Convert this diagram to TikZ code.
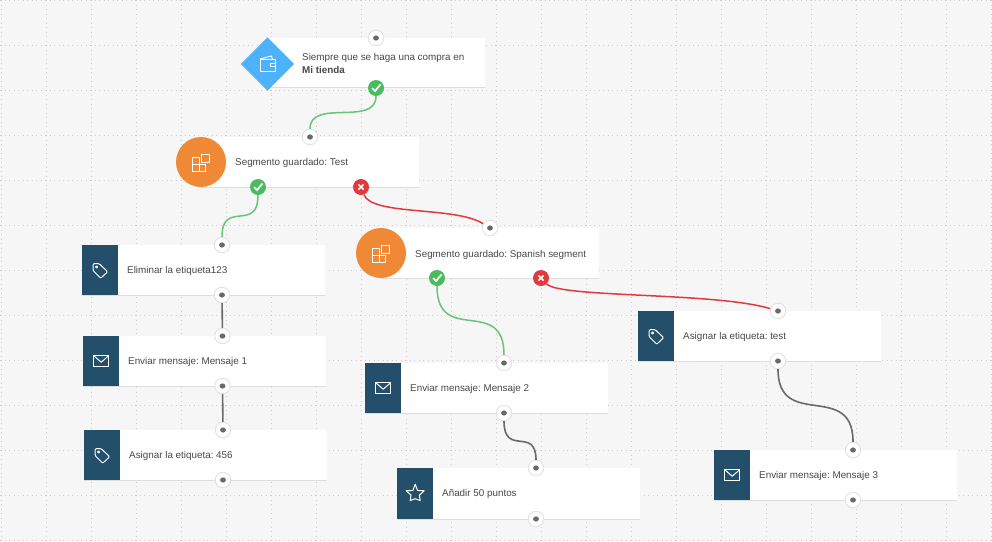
\documentclass[tikz,border=0pt]{standalone}
\usepackage{fontspec}
\setmainfont{Liberation Sans}
\definecolor{bgc}{HTML}{F6F6F6}
\definecolor{gridc}{HTML}{CFCFCF}
\definecolor{tealc}{HTML}{234F6B}
\definecolor{orangec}{HTML}{EF8935}
\definecolor{bluec}{HTML}{4DB2FA}
\definecolor{greenc}{HTML}{4CBB5F}
\definecolor{redc}{HTML}{E0393E}
\definecolor{shadowc}{HTML}{DEDEDE}
\definecolor{textc}{HTML}{484848}
\definecolor{wirec}{HTML}{6A6A6A}
\definecolor{ringc}{HTML}{E2E2E2}
\tikzset{
  cardbox/.style={anchor=north west,fill=white,inner sep=0pt,minimum width=#1,minimum height=50pt,
    preaction={fill=shadowc,transform canvas={yshift=-1pt}}},
  iconbox/.style={anchor=north west,fill=tealc,inner sep=0pt,minimum width=36pt,minimum height=50pt},
  roundicon/.style={circle,fill=orangec,inner sep=0pt,minimum size=50pt},
  diamondicon/.style={diamond,fill=bluec,inner sep=0pt,minimum size=53.4pt},
  labeltext/.style={anchor=west,inner sep=0pt,yshift=-1pt,text=textc,font=\fontsize{9.85}{11}\selectfont\frenchspacing},
  gridline/.style={gridc,line width=.7pt,dash pattern=on .7pt off 3.8pt},
  portdot/.style={circle,fill=white,draw=ringc,line width=.9pt,inner sep=0pt,minimum size=15.5pt,
    path picture={\fill[wirec] (path picture bounding box.center) ellipse (2.9pt and 2.6pt);}},
  okdot/.style={circle,fill=greenc,inner sep=0pt,minimum size=16pt,
    path picture={\draw[white,line width=1.7pt] ([shift={(-4pt,0pt)}]path picture bounding box.center) -- ++(3pt,-3pt) -- ++(5.5pt,6.5pt);}},
  nodot/.style={circle,fill=redc,inner sep=0pt,minimum size=16pt,
    path picture={\draw[white,line width=1.5pt] ([shift={(-2.6pt,-2.6pt)}]path picture bounding box.center) -- ++(5.2pt,5.2pt) ([shift={(-2.6pt,2.6pt)}]path picture bounding box.center) -- ++(5.2pt,-5.2pt);}},
  okwire/.style={draw=greenc!85!white,line width=1.5pt},
  nowire/.style={draw=redc,line width=1.5pt},
  plainwire/.style={draw=wirec,line width=1.6pt},
  glyph/.style={draw=white,line width=1pt,line join=round,fill=none},
  tagicon/.pic={\draw[glyph,rounded corners=1pt] (-7,-6.5) -- (-1,-6.5) -- (7.5,1.5) -- (0.5,8) -- (-7,0.5) -- cycle;
     \draw[glyph,line width=.8pt] (-3.6,-3.2) circle (1.1);},
  mailicon/.pic={\draw[glyph] (-7.5,-5.5) rectangle (7.5,5.5); \draw[glyph] (-7.5,-5.5) -- (0,1) -- (7.5,-5.5);},
  staricon/.pic={\draw[glyph] (-90:9.5) -- (-54:4) -- (-18:9.5) -- (18:4.4) -- (54:8.5) -- (90:5) -- (126:8.5) -- (162:4.4) -- (198:9.5) -- (234:4) -- cycle;},
  segicon/.pic={\draw[glyph] (-8.7,-4.3) rectangle (-2,2.4) (-8.7,2.4) rectangle (-2,9) (-2,2.4) rectangle (4.7,9) (0.7,-7.7) rectangle (8.3,0.3);},
  walleticon/.pic={\draw[glyph] (-7.5,-5) rectangle (7.5,7); \draw[glyph] (-7.5,-5) -- (4,-8) -- (4.8,-5); \draw[glyph] (7.5,-1) -- (3,-1) -- (3,2) -- (7.5,2);},
}
\usetikzlibrary{shapes.geometric}
\begin{document}
\begin{tikzpicture}[x=1pt,y=-1pt]
\useasboundingbox (0,0) rectangle (992,541);
\fill[bgc] (0,0) rectangle (992,541);
% grid
\foreach \gx in {1.7,46.7,...,992}
  \draw[gridline] (\gx,0) -- (\gx,541);
\foreach \gy in {0,45,...,540}
  \draw[gridline] (0,\gy) -- (992,\gy);

% trigger
\node[cardbox=217pt,minimum height=49pt] (trigcard) at (268,38) {};
\node[diamondicon] (trigicon) at (267.5,64) {};
\pic at (trigicon.center) {walleticon};
\node[labeltext] (trigt1) at (302,57.2) {Siempre que se haga una compra en};
\node[labeltext] (trigt2) at (302,69.4) {\textbf{Mi tienda}};
% segment 1
\node[cardbox=218pt] (seg1card) at (201,137) {};
\node[roundicon] (seg1icon) at (201,162) {};
\pic at (seg1icon.center) {segicon};
\node[labeltext] (seg1t) at (235,162) {Segmento guardado: Test};
% segment 2
\node[cardbox=218pt] (seg2card) at (381,228) {};
\node[roundicon] (seg2icon) at (381,253) {};
\pic at (seg2icon.center) {segicon};
\node[labeltext] (seg2t) at (415,253.5) {Segmento guardado: Spanish segment};
% actions
\node[cardbox=243pt] (elimcard) at (82,245) {};
\node[iconbox] (elimicon) at (82,245) {};
\pic at (elimicon.center) {tagicon};
\node[labeltext] (elimt) at (127,270) {Eliminar la etiqueta123};

\node[cardbox=243pt] (m1card) at (83,336) {};
\node[iconbox] (m1icon) at (83,336) {};
\pic at (m1icon.center) {mailicon};
\node[labeltext] (m1t) at (128,361) {Enviar mensaje: Mensaje 1};

\node[cardbox=243pt] (a456card) at (84,430) {};
\node[iconbox] (a456icon) at (84,430) {};
\pic at (a456icon.center) {tagicon};
\node[labeltext] (a456t) at (129,455) {Asignar la etiqueta: 456};

\node[cardbox=243pt] (m2card) at (365,363) {};
\node[iconbox] (m2icon) at (365,363) {};
\pic at (m2icon.center) {mailicon};
\node[labeltext] (m2t) at (410,388) {Enviar mensaje: Mensaje 2};

\node[cardbox=243pt,minimum height=51pt] (ptscard) at (397,468) {};
\node[iconbox,minimum height=51pt] (ptsicon) at (397,468) {};
\pic at (ptsicon.center) {staricon};
\node[labeltext] (ptst) at (442,493) {Añadir 50 puntos};

\node[cardbox=243pt] (atcard) at (638,311) {};
\node[iconbox] (aticon) at (638,311) {};
\pic at (aticon.center) {tagicon};
\node[labeltext] (att) at (683,336) {Asignar la etiqueta: test};

\node[cardbox=243pt] (m3card) at (714,450) {};
\node[iconbox] (m3icon) at (714,450) {};
\pic at (m3icon.center) {mailicon};
\node[labeltext] (m3t) at (759,475) {Enviar mensaje: Mensaje 3};

% ports
\node[portdot] (ptrigin) at (376,38) {};
\node[okdot] (ptrigok) at (376,88) {};
\node[portdot] (pseg1in) at (310,137) {};
\node[okdot] (pseg1ok) at (258,187) {};
\node[nodot] (pseg1no) at (361,187) {};
\node[portdot] (pseg2in) at (490,228) {};
\node[okdot] (pseg2ok) at (437,278) {};
\node[nodot] (pseg2no) at (541,278) {};
\node[portdot] (pelimin) at (222,245) {};
\node[portdot] (pelimout) at (222,295) {};
\node[portdot] (pm1in) at (222.5,336) {};
\node[portdot] (pm1out) at (222.5,386) {};
\node[portdot] (pa456in) at (223,430) {};
\node[portdot] (pa456out) at (223,480) {};
\node[portdot] (pm2in) at (504,363) {};
\node[portdot] (pm2out) at (504,413) {};
\node[portdot] (pptsin) at (536,468) {};
\node[portdot] (pptsout) at (536,519) {};
\node[portdot] (patin) at (778,311) {};
\node[portdot] (patout) at (778,361) {};
\node[portdot] (pm3in) at (853,450) {};
\node[portdot] (pm3out) at (853,500) {};

% connectors
\draw[okwire] (ptrigok) .. controls +(0,39) and +(0,-39) .. (pseg1in);
\draw[okwire] (pseg1ok) .. controls +(0,46) and +(0,-46) .. (pelimin);
\draw[nowire] (pseg1no) .. controls +(11,29) and +(-35,-22) .. (pseg2in);
\draw[okwire] (pseg2ok) .. controls +(0,68) and +(0,-68) .. (pm2in);
\draw[nowire] (pseg2no) .. controls +(19,20) and +(-63,-19) .. (patin);
\draw[plainwire] (pelimout) -- (pm1in);
\draw[plainwire] (pm1out) -- (pa456in);
\draw[plainwire] (pm2out) .. controls +(0,44) and +(0,-42) .. (pptsin);
\draw[plainwire] (patout) .. controls +(0,70) and +(0,-70) .. (pm3in);
\end{tikzpicture}
\end{document}
